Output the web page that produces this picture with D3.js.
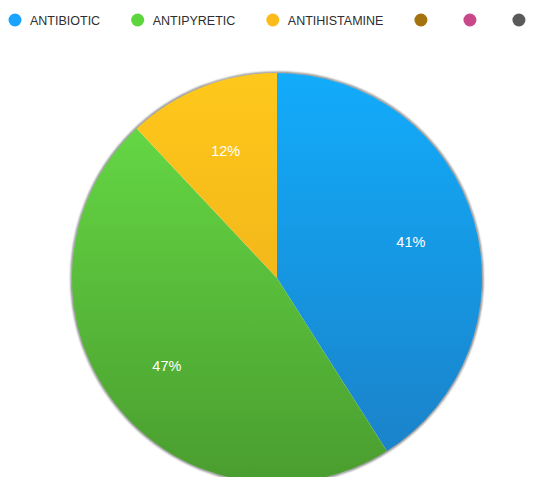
<!DOCTYPE html>
<html>
<head>
<meta charset="utf-8">
<script src="https://cdn.jsdelivr.net/npm/d3@7"></script>
<style>
  body { margin: 0; background: #fff; }
  svg { display: block; }
</style>
</head>
<body>
<div id="pie-chart"><svg width="552" height="477"></svg></div>
<script>
// data
const categories = ["ANTIBIOTIC", "ANTIPYRETIC", "ANTIHISTAMINE", "", "", ""];
const values = [41, 47, 12, 0, 0, 0];
const colorsTop = ["#12acfb", "#68df47", "#ffc81b", "#a87614", "#cc4a8e", "#5c5c5c"];
const colorsBottom = ["#1b7fc6", "#4a9d2f", "#e6a719", "#a87614", "#cc4a8e", "#5c5c5c"];
const legendColors = ["#1aa3ff", "#5cd63c", "#fbbb1b", "#a4720f", "#c8488a", "#5a5a5a"];

const svg = d3.select("#pie-chart svg"),
      width = +svg.attr("width"),
      height = +svg.attr("height");

const cx = 277, cy = 278, radius = 205;

const data = categories.map((c, i) => ({ name: c, value: values[i], i }));

const defs = svg.append("defs");

// vertical gradients per slice (in the pie group's coordinates)
data.forEach(d => {
  const grad = defs.append("linearGradient")
    .attr("id", "grad" + d.i)
    .attr("gradientUnits", "userSpaceOnUse")
    .attr("x1", 0).attr("y1", -radius)
    .attr("x2", 0).attr("y2", radius);
  grad.append("stop").attr("offset", "0%").attr("stop-color", colorsTop[d.i]);
  grad.append("stop").attr("offset", "100%").attr("stop-color", colorsBottom[d.i]);
});

const blur = defs.append("filter").attr("id", "edge")
  .attr("x", "-10%").attr("y", "-10%").attr("width", "120%").attr("height", "120%");
blur.append("feGaussianBlur").attr("stdDeviation", 1);

// legend
const legend = svg.append("g").attr("transform", "translate(0,20)");
let lx = 15;
data.forEach(d => {
  const item = legend.append("g").attr("transform", `translate(${lx},0)`);
  item.append("circle")
    .attr("r", 6.5)
    .attr("fill", legendColors[d.i]);
  const t = item.append("text")
    .attr("x", 15)
    .attr("y", 4.5)
    .attr("font-family", "'Liberation Sans', Arial, Helvetica, sans-serif")
    .attr("font-size", 12.5)
    .attr("fill", "#2e2e2e")
    .text(d.name);
  const w = d.name ? t.node().getComputedTextLength() : 0;
  lx += d.name ? 15 + w + 37.5 : 49;
});

// pie
const g = svg.append("g").attr("transform", `translate(${cx},${cy})`);

g.append("circle")
  .attr("r", radius + 0.3)
  .attr("fill", "none")
  .attr("stroke", "#222")
  .attr("stroke-width", 1.6)
  .attr("opacity", 0.8)
  .attr("filter", "url(#edge)");

const pie = d3.pie().sort(null).value(d => d.value);
const arc = d3.arc().innerRadius(0).outerRadius(radius);
const labelArc = d3.arc().innerRadius(radius * 0.68).outerRadius(radius * 0.68);

const arcs = pie(data).filter(d => d.data.value > 0);

g.selectAll("path.slice")
  .data(arcs)
  .enter()
  .append("path")
  .attr("class", "slice")
  .attr("d", arc)
  .attr("fill", d => `url(#grad${d.data.i})`);

g.selectAll("text.label")
  .data(arcs)
  .enter()
  .append("text")
  .attr("class", "label")
  .attr("transform", d => `translate(${labelArc.centroid(d)})`)
  .attr("text-anchor", "middle")
  .attr("dy", "0.55em")
  .attr("font-family", "'Liberation Sans', Arial, Helvetica, sans-serif")
  .attr("font-size", 14.5)
  .attr("fill", "#fff")
  .text(d => d.data.value + "%");
</script>
</body>
</html>
